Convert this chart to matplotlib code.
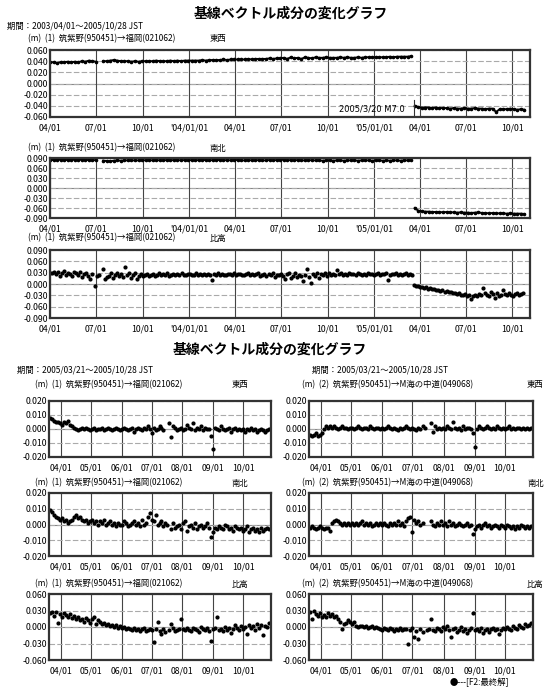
"""基線ベクトル成分の変化グラフ（筑紫野・福岡・M海の中道）"""

import matplotlib

matplotlib.use("Agg")
import matplotlib.dates as mdates
import matplotlib.pyplot as plt
import numpy as np

plt.rcParams["font.family"] = ["Noto Sans CJK JP", "DejaVu Sans"]

nan = np.nan
W, H = 547, 691

# ---- 上段: 2003/04/01～2005/10/28 (mm) ----
TOP_START = "2003-04-01"
QUAKE = "2005-03-20"
WEEK_STEP = 7    # 東西・南北は週ごとの値
HEIGHT_STEP = 4  # 比高は4日ごとの値

top_ew_mm = [
    38, 38, 37, 38, 38, 39, 38, 39, 38, 40, 39, 41, 40, 39,
    nan,
    40, 40, 41, 42, 41, 40, 40, 40, 39, 40, 39, 40,
    40, 40, 40, 41, 40, 40, 40, 41, 40, 41, 40, 41, 41,
    41, 41, 41, 42, 41, 42, 42, 42, 42, 43, 42, 43, 43,
    43, 43, 43, 44, 43, 44, 44, 44, 44, 45, 44, 45, 45,
    46, 44, 47, 45, 46, 44, 47, 46, 45, 47, 46, 46, 47,
    46, 46, 46, 47, 46, 47, 46, 46, 47, 46, 47, 47, 47,
    47, 47, 47, 47, 48, 47, 48, 48, 48, 48, 49,
    -40, -42, -43, -43, -43, -44, -43, -44, -44, -44, -45, -44, -45,
    -45, -44, -45, -45, -44, -45, -45, -46, -45, -45, -51, -46, -46, -46, -45, -46, -47, -46, -47,
]

top_ns_mm = [
    84, 84, 84, 85, 84, 84, 84, 85, 84, 85, 84, 84, 83, 84,
    nan,
    82, 81, 80, 82, 83, 82, 83, 83, 83, 83, 83, 84,
    83, 84, 83, 84, 83, 83, 84, 83, 84, 84, 83, 84, 83,
    84, 83, 84, 84, 84, 83, 84, 84, 84, 83, 84, 83, 84,
    84, 83, 83, 84, 83, 83, 84, 83, 83, 84, 83, 84, 84,
    85, 83, 84, 83, 84, 83, 83, 84, 83, 83, 83, 82, 83,
    83, 82, 83, 83, 82, 83, 83, 83, 82, 83, 83, 83, 82,
    83, 83, 82, 83, 82, 83, 83, 82, 83, 83, 83,
    -60, -68, -70, -71, -71, -72, -72, -72, -73, -72, -73, -73, -74,
    -73, -74, -74, -75, -74, -73, -75, -75, -76, -75, -76, -76, -76, -77, -76, -77, -77, -77, -78,
]

top_up_mm = [
    30, 28, 33, 26, 31, 22, 29, 35, 24, 30, 27, 20, 33, 28, 25, 31, 18, 26, 30, 22, 14, 27, -5, 20, 25,
    nan,
    40, 12, 18, 22, 28, 15, 24, 30, 20, 26, 19, 45, 23, 28, 17, 25, 30, 12, 22, 27, 20, 24, 26, 21,
    24, 27, 22, 25, 28, 23, 26, 24, 29, 22, 25, 27, 24, 26, 23, 28, 25, 24, 27, 26, 23, 25, 28, 24, 26,
    25, 27, 24, 26, 23, 10, 27, 25, 28, 24, 26, 25, 23, 27, 26, 25, 28, 24, 26, 27, 25, 23, 26, 28, 25,
    27, 24, 26, 28, 22, 25, 27, 20, 26, 24, 28, 18, 25, 23, 27, 21, 12, 26, 30, 15, 22, 28, 19, 24, 20,
    8, 25, 40, 18, 2, 27, 22, 30, 16, 26, 24, 28, 21, 29, 25, 27, 23, 36, 26, 28, 24, 27, 25, 29, 26,
    27, 25, 28, 26, 24, 27, 25, 28, 26, 27, 24, 26, 28, 25, 27, 26, 28, 10, 25, 27,
    26, 28, 25, 27, 24, 26, 28, 25, 27, 24,
    -2, -5, -4, -8, -7, -10, -9, -12, -11, -14, -13, -16, -15, -18, -17,
    -20, -19, -22, -21, -24, -23, -26, -25, -28, -30, -27, -33, -29, -40, -31,
    -28, -32, -26, -30, -10, -24, -29, -33, -22, -27, -36, -25, -31, -28, -15,
    -26, -30, -24, -28, -32, -27, -25, -29, -26, -23,
]

top_xticks = ["2003-04-01", "2003-07-01", "2003-10-01", "2004-01-01", "2004-04-01", "2004-07-01",
              "2004-10-01", "2005-01-01", "2005-04-01", "2005-07-01", "2005-10-01"]
top_xlabels = ["04/01", "07/01", "10/01", "'04/01/01", "04/01", "07/01",
               "10/01", "'05/01/01", "04/01", "07/01", "10/01"]
top_xlim = ["2003-04-01", "2005-11-05"]

# ---- 下段: 2005/03/21～2005/10/28, 2日ごと (mm) ----
BOTTOM_START = "2005-03-21"
DAY_STEP = 2

fk_ew_mm = [
    8, 7, 6, 5, 5, 4, 3, 5, 4, 6, 3,
    2, 1, 0, -1, 0, 1, 0, 1, 0, -1,
    0, 1, -1, 0, 0, 1, -1, 0, 1, 0, -1, 0, 1, 0, -1,
    0, 1, 0, -1, 0, 1, -2, 0, 1, 0, -1, 1, 0, 2, 0,
    -3, 1, -1, 0, 2, 1, -1, nan, nan, 4, -6, 2, 1, -1, 0,
    1, -1, 0, 3, 1, 0, 4, -1, 1, 0, 2, -1, 1, 0, 0,
    -5, -14, 1, 0, -1, 2, 0, -1, 0, 1, -2, 0, 1, -1, 0,
    -1, 0, -2, 0, -1, 1, -1, 0, -2, -1, 0, -1, -2, -1, 0,
]
fk_ns_mm = [
    9, 8, 6, 5, 4, 3, 4, 2, 3, 1, 2,
    3, 5, 6, 4, 5, 3, 2, 3, 1, 2,
    3, 1, 2, 0, 2, 1, 3, 0, 1, 2, 0, 1, -1, 1, 0,
    0, 2, 1, -1, 0, 1, 2, 0, 1, -1, 3, 0, 1, 5, 7,
    3, 2, 6, 0, 1, 2, -1, 1, 0, nan, -3, 1, -2, -1, 0,
    -3, 1, 2, -4, -1, 0, -2, 1, -3, -1, 0, -2, -1, 1, -2,
    -8, -5, -2, -3, -1, -2, -3, 0, -1, -3, -2, -4, -1, -2, -3,
    -2, -4, -3, -1, -5, -3, -2, -4, -3, -5, -2, -4, -3, -2, -3,
]
fk_up_mm = [
    25, 28, 20, 27, 8, 24, 18, 26, 22, 19, 23,
    16, 20, 14, 18, 12, 15, 10, 17, 13, 8,
    14, 18, 6, 12, 9, 5, 8, 3, 6, 2, 4, 0, 3, -1, 2,
    -2, 0, -4, -1, -3, -6, -2, -5, -3, -7, -4, -2, -8, -5, -3,
    -6, -28, -4, 10, -7, -12, -3, -9, nan, -5, 5, -2, -8, -6, -4,
    15, -3, -6, -1, -5, -8, -2, -4, -6, -9, 0, -3, -5, -2, -7,
    -25, -4, -1, 18, -6, -3, -8, 0, -5, -2, -10, -4, 3, -1, -6,
    2, -3, 0, -12, 4, -2, 1, -5, 6, -1, 3, -15, 2, 0, 8,
]
um_ew_mm = [
    -4, -5, -4, -3, -5, -4, -3, 0, 2, 1, 2,
    1, 2, 1, 0, 1, 2, 1, 1, 0, 1,
    1, 0, 1, 2, 1, 0, 1, 1, 0, 2, 1, 0, 1, 1, 0,
    1, 0, 1, 2, 1, 0, 1, 0, -1, 1, 0, 1, 2, 1, 0,
    1, 0, -1, 1, 0, 2, 1, nan, nan, 4, -2, 2, 0, 1, 0,
    1, 0, 2, 1, 0, 5, 1, 0, 1, -1, 2, 0, 1, 1, 0,
    -3, -13, 0, 2, 1, 0, 1, 2, 1, 0, 1, 0, 2, 1, 0,
    1, 0, 1, 2, 0, 1, 0, 1, 1, 0, 1, 0, 1, 0, 1,
]
um_ns_mm = [
    -2, -1, -2, -3, -2, -1, -2, -3, -2, -2, -4,
    1, 2, 3, 2, 1, 0, 1, 0, 1, 0,
    1, 0, 1, 0, 1, 2, 0, 1, 0, 1, -1, 0, 1, 0, 1,
    0, 1, 0, -1, 1, 0, 1, 0, 2, 0, 1, -1, 2, 4, 5,
    -5, 3, 1, 2, 0, 1, nan, nan, nan, 2, 0, -1, 1, 0, 2,
    0, 1, -1, 2, 0, 1, -1, 0, 1, 0, -1, 0, 1, -1, 0,
    -6, -3, -1, 0, -2, 0, 1, -1, 0, -2, -1, 0, -1, -2, 0,
    -1, -2, 0, -1, -2, -1, -3, -1, -2, 0, -1, -2, -1, -2, -1,
]
um_up_mm = [
    28, 15, 30, 24, 20, 26, 18, 22, 19, 25, 20,
    23, 18, 20, 14, 10, -3, 5, 8, 12, 10,
    6, 9, 2, 0, 1, 2, 0, 1, -1, 0, 1, -2, 0, -1, -3,
    -5, -1, -4, -6, -2, -3, -8, -4, -5, -2, -6, -4, -3, -30, -5,
    -2, -18, -8, -22, -4, -9, nan, -6, -3, 15, -5, -8, -2, -4, -7,
    0, -3, 2, -6, -18, -4, -2, -9, -5, 0, -7, -3, -10, -5, -2,
    25, -6, -4, -8, -2, -10, -5, -3, -9, -4, -1, -6, -3, -12, -5,
    -2, -4, 0, -3, -6, 2, -1, -4, 3, 0, -2, 5, 1, 4, 8,
]

bottom_xticks = ["2005-04-01", "2005-05-01", "2005-06-01", "2005-07-01",
                 "2005-08-01", "2005-09-01", "2005-10-01"]
bottom_xlabels = ["04/01", "05/01", "06/01", "07/01", "08/01", "09/01", "10/01"]
bottom_xlim = ["2005-03-20", "2005-10-29"]

yticks_060_20 = [0.06, 0.04, 0.02, 0.0, -0.02, -0.04, -0.06]
yticks_090_30 = [0.09, 0.06, 0.03, 0.0, -0.03, -0.06, -0.09]
yticks_020_10 = [0.02, 0.01, 0.0, -0.01, -0.02]
yticks_060_30 = [0.06, 0.03, 0.0, -0.03, -0.06]

TITLE = "基線ベクトル成分の変化グラフ"
PAIR1 = "(m)  (1)  筑紫野(950451)→福岡(021062)"
PAIR2 = "(m)  (2)  筑紫野(950451)→M海の中道(049068)"


def dates_for(values, start, step):
    return np.datetime64(start) + np.arange(len(values)) * step


def add_axes_px(fig, x0, y0, x1, y1):
    return fig.add_axes([x0 / W, 1 - y1 / H, (x1 - x0) / W, (y1 - y0) / H])


def text_px(fig, x, y, s, **kw):
    kw.setdefault("va", "center")
    kw.setdefault("fontsize", 6)
    fig.text(x / W, 1 - y / H, s, **kw)


def style_axes(ax, xlim, xticks, xlabels, yticks):
    ax.set_xlim(*mdates.date2num(np.array(xlim, dtype="datetime64[D]")))
    ax.set_ylim(yticks[-1], yticks[0])
    ax.set_xticks(mdates.date2num(np.array(xticks, dtype="datetime64[D]")))
    ax.set_xticklabels(xlabels)
    ax.set_yticks(yticks)
    ax.set_yticklabels([f"{round(t, 3) + 0.0:.3f}" for t in yticks])
    ax.tick_params(length=0, labelsize=6.3)
    ax.tick_params(axis="y", pad=1.5)
    ax.tick_params(axis="x", pad=4.5)
    ax.set_axisbelow(True)
    ax.grid(axis="x", color="#444444", lw=0.8)
    ax.grid(axis="y", color="#aaaaaa", lw=0.8, ls=(0, (5, 2)))
    ax.axhline(0, color="#888888", lw=0.8, zorder=0.5)
    for spine in ax.spines.values():
        spine.set_linewidth(1.6)
        spine.set_color("#333333")


def plot_split(ax, dates, values_mm, **kw):
    """地震の前後で線をつながない"""
    vals = np.array(values_mm, dtype=float) / 1000
    quake = np.datetime64(QUAKE)
    for mask in (dates < quake, dates >= quake):
        ax.plot(dates[mask], vals[mask], color="black", **kw)


fig = plt.figure(figsize=(W / 100, H / 100), dpi=100)

# ---- 上段 ----
text_px(fig, 291, 14, TITLE, fontsize=10, fontweight="bold", ha="center")
text_px(fig, 7, 26, "期間：2003/04/01～2005/10/28 JST")

top_rows = [
    (50, 117, 39, top_ew_mm, WEEK_STEP, yticks_060_20, "東西", True),
    (158, 218, 148, top_ns_mm, WEEK_STEP, yticks_090_30, "南北", True),
    (250, 318, 238, top_up_mm, HEIGHT_STEP, yticks_090_30, "比高", False),
]
for y0, y1, head_y, values, step, yticks, comp, as_line in top_rows:
    ax = add_axes_px(fig, 50, y0, 530, y1)
    style_axes(ax, top_xlim, top_xticks, top_xlabels, yticks)
    dates = dates_for(values, TOP_START, step)
    if as_line:
        plot_split(ax, dates, values, lw=1.4, marker="o", ms=1.6)
    else:
        plot_split(ax, dates, values, lw=0, marker="o", ms=2.0)
    text_px(fig, 28, head_y, PAIR1)
    text_px(fig, 210, head_y, comp)
    if comp == "東西":
        quake_x = mdates.date2num(np.datetime64(QUAKE))
        ax.axvline(quake_x, ymin=0, ymax=0.25, color="#333333", lw=0.8)
        ax.text(quake_x - 18, -0.045, "2005/3/20 M7.0", fontsize=6,
                ha="right", va="center", family=["DejaVu Sans"])

# ---- 下段 ----
text_px(fig, 270, 350, TITLE, fontsize=10, fontweight="bold", ha="center")
text_px(fig, 17, 370, "期間：2005/03/21～2005/10/28 JST")
text_px(fig, 312, 370, "期間：2005/03/21～2005/10/28 JST")

bottom_rows = [
    (401, 457, 385, fk_ew_mm, um_ew_mm, yticks_020_10, "東西"),
    (493, 556, 483, fk_ns_mm, um_ns_mm, yticks_020_10, "南北"),
    (594, 660, 584, fk_up_mm, um_up_mm, yticks_060_30, "比高"),
]
for y0, y1, head_y, left_mm, right_mm, yticks, comp in bottom_rows:
    for x0, x1, values, pair, comp_x in ((49, 271, left_mm, PAIR1, 232),
                                         (309, 533, right_mm, PAIR2, 527)):
        ax = add_axes_px(fig, x0, y0, x1, y1)
        style_axes(ax, bottom_xlim, bottom_xticks, bottom_xlabels, yticks)
        dates = dates_for(values, BOTTOM_START, DAY_STEP)
        ax.plot(dates, np.array(values, dtype=float) / 1000, "o", color="black", ms=2.0)
        text_px(fig, x0 - 14 if x0 < 100 else x0 - 7, head_y, pair)
        text_px(fig, comp_x, head_y, comp)

text_px(fig, 450, 682, "●---[F2:最終解]")

fig.savefig("out.png", dpi=100)
plt.close(fig)
